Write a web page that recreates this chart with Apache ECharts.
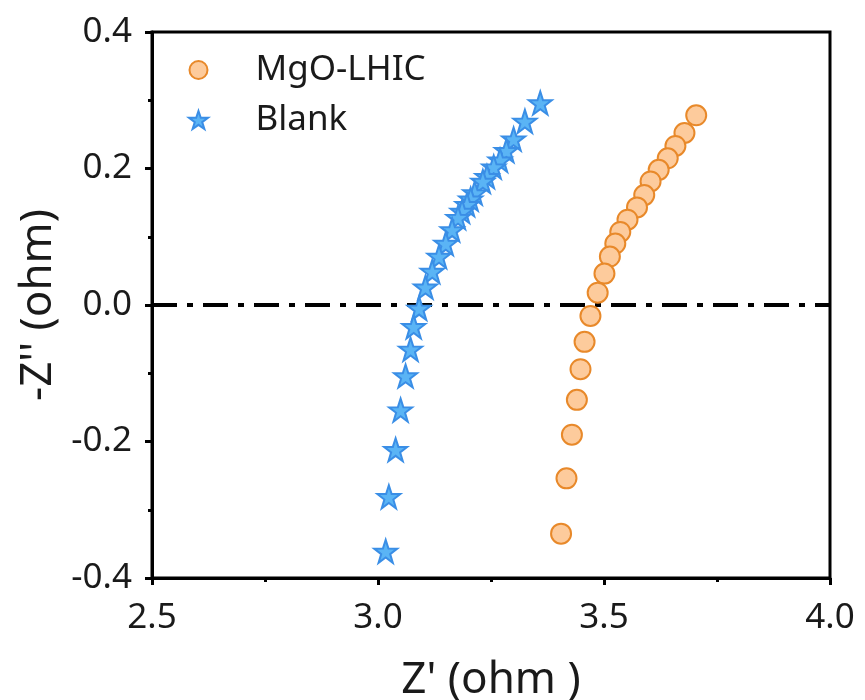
<!DOCTYPE html>
<html><head><meta charset="utf-8">
<script src="https://cdn.jsdelivr.net/npm/echarts@6/dist/echarts.min.js"></script>
<style>html,body{margin:0;padding:0;background:#fff}#c{width:865px;height:700px}</style>
</head><body><div id="c"></div>
<script>
const mgoX = [3.704,3.678,3.658,3.641,3.621,3.603,3.589,3.573,3.552,3.536,3.525,3.513,3.501,3.486,3.470,3.457,3.448,3.440,3.429,3.417,3.405];
const mgoY = [0.278,0.252,0.233,0.215,0.198,0.181,0.161,0.143,0.125,0.107,0.090,0.071,0.046,0.018,-0.016,-0.054,-0.094,-0.139,-0.190,-0.254,-0.335];
const blankX = [3.359,3.325,3.300,3.284,3.270,3.256,3.241,3.232,3.214,3.205,3.197,3.186,3.177,3.164,3.150,3.135,3.120,3.105,3.091,3.079,3.072,3.061,3.050,3.039,3.024,3.017];
const blankY = [0.296,0.269,0.243,0.226,0.212,0.202,0.188,0.181,0.164,0.155,0.147,0.137,0.128,0.110,0.090,0.071,0.049,0.026,-0.005,-0.032,-0.065,-0.104,-0.154,-0.212,-0.281,-0.361];
const xTicks = [2.5, 3.0, 3.5, 4.0];
const yTicks = [-0.4, -0.2, 0.0, 0.2, 0.4];
const zeroLineY = 0;
const seriesNames = ['MgO-LHIC', 'Blank'];

const zip = (a, b) => a.map((v, i) => [v, b[i]]);
const FONT = 'Noto Sans';
const TXT = '#1a1a1a';
const STAR = 'path://M50,0 L61.8,35.1 L98.9,35.3 L69.1,57.3 L80.3,92.7 L50,71.2 L19.7,92.7 L30.9,57.3 L1.1,35.3 L38.2,35.1 Z';
const xMin = xTicks[0], xMax = xTicks[xTicks.length - 1];
const axisCommon = {
  axisLine: {show: true, onZero: false, lineStyle: {color: '#000', width: 3}},
  axisTick: {show: true, inside: false, length: 7, lineStyle: {width: 3, color: '#000'}},
  minorTick: {show: true, splitNumber: 2, length: 4, lineStyle: {width: 3, color: '#000'}},
  splitLine: {show: false}
};
const chart = echarts.init(document.getElementById('c'), null, {renderer: 'canvas'});
chart.setOption({
  animation: false,
  textStyle: {fontFamily: FONT},
  grid: {left: 152, right: 35, top: 32, bottom: 122, containLabel: false, outerBoundsMode: 'none',
         show: true, borderColor: '#000', borderWidth: 3, backgroundColor: 'transparent'},
  legend: {
    left: 183, top: 47, orient: 'vertical', itemGap: 14, itemWidth: 20, itemHeight: 18,
    textStyle: {fontSize: 35, lineHeight: 36, color: TXT, fontFamily: FONT, padding: [0, 0, 0, 42]},
    data: [
      {name: seriesNames[0], icon: 'circle', itemStyle: {color: '#FDCB9C', borderColor: '#E8892A', borderWidth: 2}},
      {name: seriesNames[1], icon: STAR, itemStyle: {color: '#5AB4F5', borderColor: '#3A8EE6', borderWidth: 2}}
    ]
  },
  xAxis: Object.assign({
    type: 'value', min: xMin, max: xMax, interval: 0.5,
    name: "Z' (ohm )", nameLocation: 'middle', nameGap: 80,
    nameTextStyle: {fontSize: 44, color: TXT, fontFamily: FONT},
    axisLabel: {fontSize: 35, color: TXT, margin: 23, formatter: v => v.toFixed(1)}
  }, axisCommon),
  yAxis: Object.assign({
    type: 'value', min: yTicks[0], max: yTicks[yTicks.length - 1], interval: 0.2,
    name: "-Z'' (ohm)", nameLocation: 'middle', nameGap: 86,
    nameTextStyle: {fontSize: 44, color: TXT, fontFamily: FONT},
    axisLabel: {fontSize: 35, color: TXT, margin: 20, formatter: v => v.toFixed(1)}
  }, axisCommon),
  series: [
    {
      name: 'zero', type: 'line', data: [[xMin, zeroLineY], [xMax, zeroLineY]],
      symbol: 'none', silent: true, z: 2,
      lineStyle: {color: '#000', width: 4, type: [25, 10, 6, 10]}
    },
    {
      name: seriesNames[0], type: 'scatter', symbol: 'circle', symbolSize: 20,
      itemStyle: {color: '#FDCB9C', borderColor: '#E8892A', borderWidth: 2, opacity: 1},
      data: zip(mgoX, mgoY), z: 3
    },
    {
      name: seriesNames[1], type: 'scatter', symbol: STAR, symbolSize: 23,
      itemStyle: {color: '#5AB4F5', borderColor: '#3A8EE6', borderWidth: 2, opacity: 1},
      data: zip(blankX, blankY), z: 3
    }
  ]
});
</script>
</body></html>
